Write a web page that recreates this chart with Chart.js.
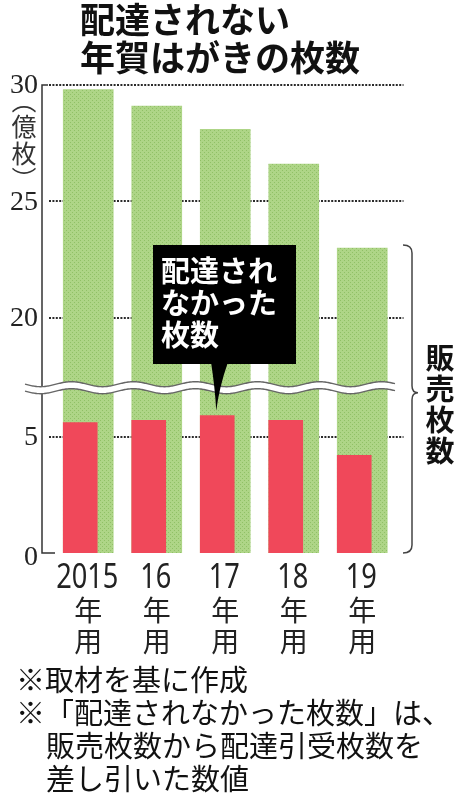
<!DOCTYPE html>
<html>
<head>
<meta charset="utf-8">
<script src="https://cdn.jsdelivr.net/npm/chart.js@4.4.1/dist/chart.umd.min.js"></script>
<style>
html, body { margin: 0; padding: 0; background: #fff; }
#wrap { position: relative; width: 464px; height: 800px; overflow: hidden; }
canvas { position: absolute; left: 0; top: 0; }
.jp { position: absolute; white-space: nowrap; color: #111;
      font-family: "Noto Sans CJK JP", "Noto Sans", sans-serif; }
#title { left: 80px; top: -1px; font-size: 35px; font-weight: 700; line-height: 38px; }
#notes { left: 16px; top: 662px; font-size: 29px; line-height: 33px; }
#notes .ind { padding-left: 30px; }
</style>
</head>
<body>
<div id="wrap">
  <canvas id="chart" width="464" height="800"></canvas>
  <div id="title" class="jp">配達されない<br>年賀はがきの枚数</div>
  <div id="notes" class="jp">※取材を基に作成<br>※「配達されなかった枚数」は、<br><span class="ind">販売枚数から配達引受枚数を</span><br><span class="ind">差し引いた数値</span></div>
</div>
<script>
// data (億枚)
const years = ['2015', '16', '17', '18', '19'];
const yearSuffix = ['年', '用'];
const sold = [29.8, 29.1, 28.1, 26.6, 23.0];
const undelivered = [5.6, 5.7, 5.9, 5.7, 4.2];
const yTicks = [0, 5, 20, 25, 30];
const gap = [7.1, 17.0];   // cut-out part of the value axis

// linear scale with a section cut out
class BrokenScale extends Chart.LinearScale {
  getPixelForValue(value) {
    const lo = this.options.gapFrom, hi = this.options.gapTo;
    let v = value;
    if (v >= hi) v -= hi - lo;
    else if (v > lo) v = lo;
    return this.getPixelForDecimal((v - this.min) / (this.max - (hi - lo) - this.min));
  }
  getValueForPixel(pixel) {
    const lo = this.options.gapFrom, hi = this.options.gapTo;
    const v = this.min + this.getDecimalForPixel(pixel) * (this.max - (hi - lo) - this.min);
    return v > lo ? v + (hi - lo) : v;
  }
}
BrokenScale.id = 'broken';
BrokenScale.defaults = Chart.LinearScale.defaults;
Chart.register(BrokenScale);

function dots() {
  const c = document.createElement('canvas');
  c.width = 4; c.height = 4;
  const g = c.getContext('2d');
  g.fillStyle = '#aed587';
  g.fillRect(0, 0, 4, 4);
  g.fillStyle = '#90c066';
  g.fillRect(0, 0, 1, 1);
  g.fillRect(2, 2, 1, 1);
  return g.createPattern(c, 'repeat');
}

const ink = '#222';
const jp = '"Noto Sans CJK JP", "Noto Sans", sans-serif';

const decor = {
  id: 'decor',
  beforeDatasetsDraw(chart) {
    const { ctx, chartArea: a, scales: { y } } = chart;
    ctx.save();
    ctx.strokeStyle = '#2a2a2a';
    ctx.lineWidth = 2;
    ctx.setLineDash([2, 1.4]);
    y.ticks.forEach(t => {
      if (t.value === 0) return;
      const py = Math.round(y.getPixelForValue(t.value));
      ctx.beginPath();
      ctx.moveTo(a.left - 5, py);
      ctx.lineTo(a.right + 7, py);
      ctx.stroke();
    });
    ctx.restore();
  },
  afterDatasetsDraw(chart) {
    const { ctx, chartArea: a, scales: { x, x2, y } } = chart;
    const ax = a.left - 12;
    ctx.save();

    // axis line
    ctx.strokeStyle = '#333';
    ctx.lineWidth = 1.5;
    ctx.beginPath();
    ctx.moveTo(ax + 6, a.top);
    ctx.lineTo(ax, a.top);
    ctx.lineTo(ax, a.bottom);
    ctx.lineTo(ax + 13, a.bottom);
    ctx.stroke();

    // tick labels
    ctx.fillStyle = ink;
    ctx.font = '28px "Liberation Serif", "DejaVu Serif", serif';
    ctx.textAlign = 'right';
    ctx.textBaseline = 'middle';
    y.ticks.forEach(t => {
      const py = y.getPixelForValue(t.value) + (t.value === 0 ? 5 : 1);
      ctx.fillText(String(t.value), ax - 4, py);
    });

    // unit (vertical)
    ctx.font = '25px ' + jp;
    ctx.textAlign = 'center';
    ctx.fillStyle = '#333';
    ['︵', '億', '枚', '︶'].forEach((ch, i) => ctx.fillText(ch, 24, 100 + i * 26.5));

    // break wave
    const wy = y.getPixelForValue(gap[0]);
    const x0 = 25, x1 = a.right - 1;
    const wv = (px, off) => wy + off + 2.5 * Math.sin((px - x0) / 62 * 2 * Math.PI);
    ctx.beginPath();
    for (let px = x0; px <= x1; px++) px === x0 ? ctx.moveTo(px, wv(px, -3.5)) : ctx.lineTo(px, wv(px, -3.5));
    for (let px = x1; px >= x0; px--) ctx.lineTo(px, wv(px, 3.5));
    ctx.closePath();
    ctx.fillStyle = '#fff';
    ctx.fill();
    ctx.strokeStyle = '#666';
    ctx.lineWidth = 1.4;
    [-3.5, 3.5].forEach(off => {
      ctx.beginPath();
      for (let px = x0; px <= x1; px++) px === x0 ? ctx.moveTo(px, wv(px, off)) : ctx.lineTo(px, wv(px, off));
      ctx.stroke();
    });

    // brace for sold
    const bx = 412, bt = y.getPixelForValue(sold[4]) - 3, bb = y.getPixelForValue(0), bm = wy + 5;
    ctx.strokeStyle = '#444';
    ctx.lineWidth = 1.5;
    ctx.beginPath();
    ctx.moveTo(bx - 9, bt);
    ctx.quadraticCurveTo(bx, bt, bx, bt + 8);
    ctx.lineTo(bx, bm - 7);
    ctx.quadraticCurveTo(bx, bm, bx + 6, bm);
    ctx.quadraticCurveTo(bx, bm, bx, bm + 7);
    ctx.lineTo(bx, bb - 8);
    ctx.quadraticCurveTo(bx, bb, bx - 9, bb);
    ctx.stroke();

    ctx.fillStyle = '#111';
    ctx.font = '700 29px ' + jp;
    ['販', '売', '枚', '数'].forEach((ch, i) => ctx.fillText(ch, 440, 358 + i * 31));

    // callout
    ctx.fillStyle = '#000';
    ctx.fillRect(153, 245, 143, 119);
    const tx = x2.getPixelForValue(2) - 1, ty = y.getPixelForValue(undelivered[2]) - 5;
    ctx.beginPath();
    ctx.moveTo(211, 362);
    ctx.quadraticCurveTo(215, 388, tx, ty);
    ctx.quadraticCurveTo(219, 388, 228, 362);
    ctx.closePath();
    ctx.fill();
    ctx.fillStyle = '#fff';
    ctx.textAlign = 'left';
    ctx.font = '700 29px ' + jp;
    ['配達され', 'なかった', '枚数'].forEach((s, i) => ctx.fillText(s, 161, 271 + i * 32));

    // category labels
    ctx.fillStyle = ink;
    ctx.textAlign = 'center';
    years.forEach((yr, i) => {
      const cx = x.getPixelForValue(i);
      ctx.save();
      ctx.translate(cx - 1, a.bottom + 25);
      ctx.scale(0.8, 1);
      ctx.font = '34px "Noto Sans", sans-serif';
      ctx.fillText(yr, 0, 0);
      ctx.restore();
      ctx.font = '28px ' + jp;
      yearSuffix.forEach((s, j) => ctx.fillText(s, cx, a.bottom + 57 + j * 31));
    });

    ctx.restore();
  }
};

new Chart(document.getElementById('chart'), {
  type: 'bar',
  data: {
    labels: years,
    datasets: [
      {
        label: '配達されなかった枚数',
        data: undelivered.map((v, i) => ({ x: i, y: v })),
        xAxisID: 'x2',
        backgroundColor: '#f0485a',
        barThickness: 34,
        grouped: false
      },
      {
        label: '販売枚数',
        data: sold,
        xAxisID: 'x',
        backgroundColor: dots(),
        barThickness: 50,
        grouped: false
      }
    ]
  },
  options: {
    responsive: false,
    devicePixelRatio: 1,
    animation: false,
    events: [],
    layout: { padding: { left: 54, right: 67.5, top: 85, bottom: 247 } },
    plugins: { legend: { display: false }, tooltip: { enabled: false } },
    scales: {
      x: { type: 'category', display: false, offset: true },
      x2: { type: 'linear', display: false, offset: false, min: -0.5 + 0.117, max: 4.5 + 0.117 },
      y: {
        type: 'broken',
        display: false,
        min: 0,
        max: 30,
        gapFrom: gap[0],
        gapTo: gap[1],
        afterBuildTicks: s => { s.ticks = yTicks.map(v => ({ value: v })); }
      }
    }
  },
  plugins: [decor]
});
</script>
</body>
</html>
